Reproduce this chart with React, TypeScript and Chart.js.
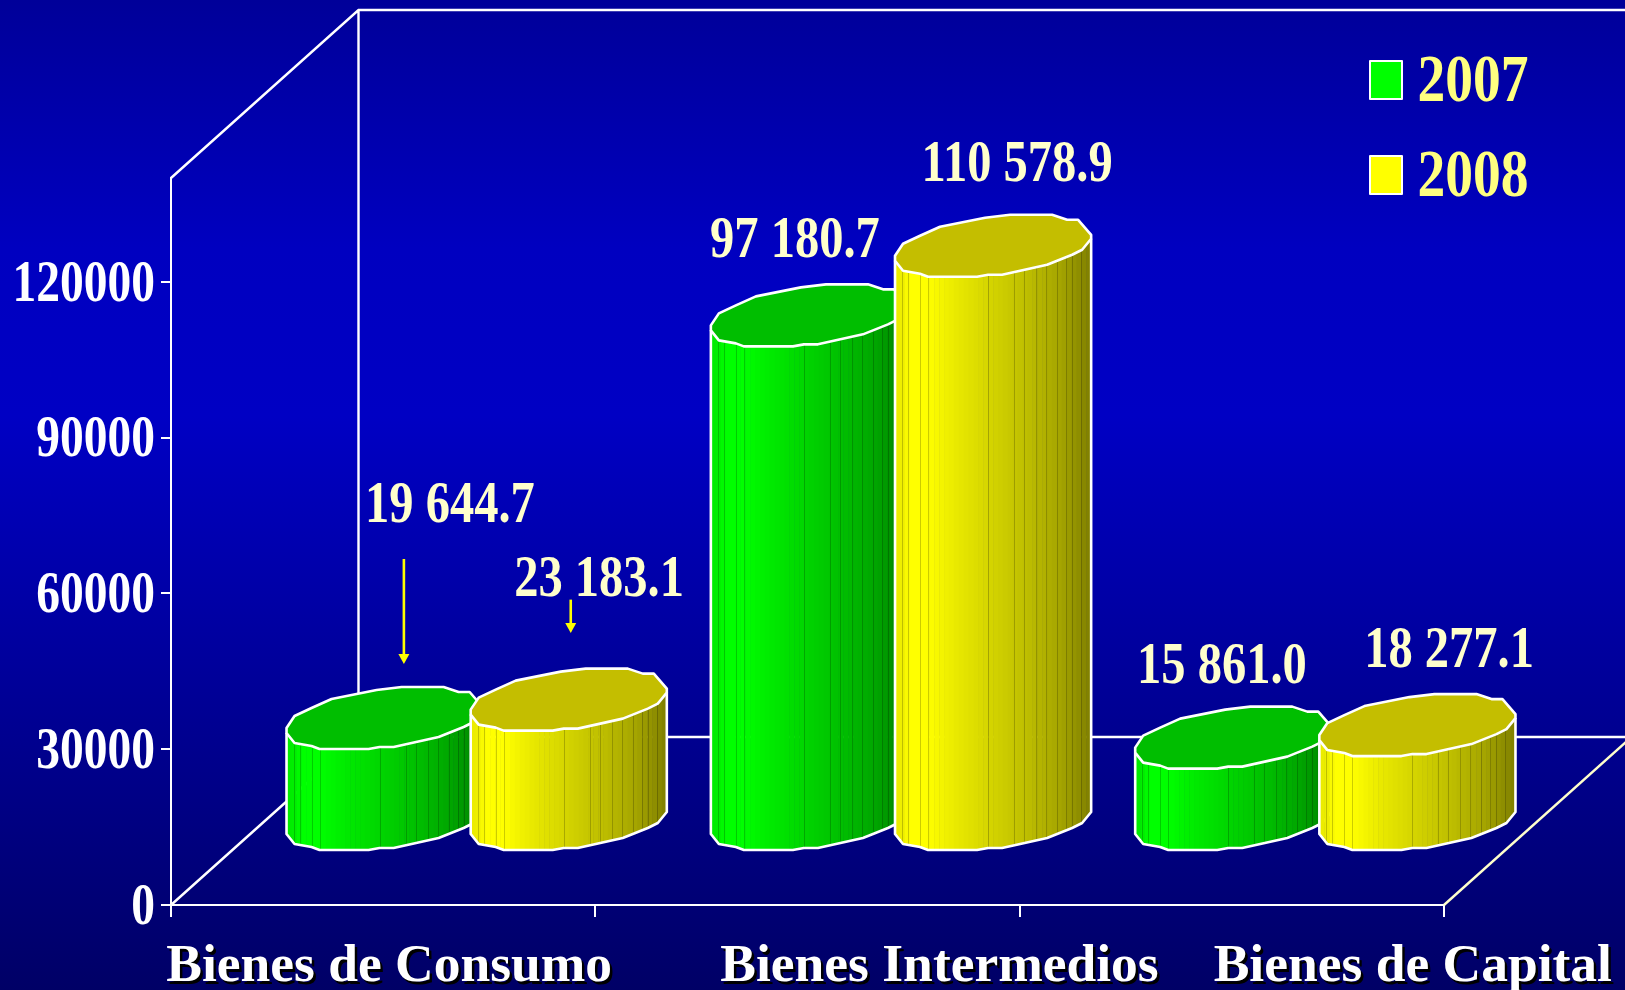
import React, { useEffect, useRef } from "react";
import { Chart, registerables } from "chart.js";

Chart.register(...registerables);

// ---------- data ----------
const categories = ["Bienes de Consumo", "Bienes Intermedios", "Bienes de Capital"];
const series2007 = [19644.7, 97180.7, 15861.0];
const series2008 = [23183.1, 110578.9, 18277.1];
const seriesNames = ["2007", "2008"];
const yTicks = [0, 30000, 60000, 90000, 120000];

// ---------- style and layout ----------
const W = 1625;
const H = 990;
const SERIF = '"Liberation Serif", "Times New Roman", serif';
const DEPTH_X = 187.5;
const DEPTH_Y = 168;
const SHIFT_X = 93.5;
const SHIFT_Y = -54;
const categoryLabelDx = [6, 132, 181];
const valueLabelOffsets = [
  [[158.8, -300], [79.5, -162.3], [82.2, -158.6]],
  [[123.8, -207.6], [117.5, -168.8], [125.2, -162]],
];
const arrows = [
  { ds: 0, i: 0, dx: 112.8, from: -244, to: -139 },
  { ds: 1, i: 0, dx: 95.5, from: -185, to: -151.6 },
];
// unit outline of a cylinder cap: [x out of 196, y above the lowest point]
const capUpper = [[0, -21], [8, -33], [25, -41], [45, -50], [90, -59], [115, -62], [157, -62], [172, -57], [183, -57], [196, -42]];
const capLower = [[0, -16], [8, -6], [25, -3], [33, 0], [82, 0], [93, -2], [107, -2], [152, -12], [162, -16], [177, -22], [187, -27], [196, -38]];
const stripeAt = [7, 13, 25, 33, 93, 119, 129, 141, 151, 162, 171, 177, 186];
const palettes = [
  { body: [0, 255, 0], cap: "#00BE00", swatch: "#00FF00" },
  { body: [255, 255, 0], cap: "#C4BE00", swatch: "#FFFF00" },
];

let textStretch = 1.25;

function shade(u: number) {
  const pts = [[0, 0.92], [0.05, 0.94], [0.07, 1], [0.17, 1], [0.3, 0.92], [0.47, 0.84], [0.7, 0.73], [0.85, 0.64], [1, 0.5]];
  for (let k = 1; k < pts.length; k++) {
    if (u <= pts[k][0]) {
      const t = (u - pts[k - 1][0]) / (pts[k][0] - pts[k - 1][0]);
      return pts[k - 1][1] + t * (pts[k][1] - pts[k - 1][1]);
    }
  }
  return 0.5;
}

function drawCylinder(ctx: any, left: number, width: number, topY: number, baseY: number, pal: any) {
  const k = width / 196;
  const upper = capUpper.map(([x, y]) => [left + x * k, topY + y]);
  const lowerTop = capLower.map(([x, y]) => [left + x * k, topY + y]);
  const lowerBase = capLower.map(([x, y]) => [left + x * k, baseY + y]);

  // body
  ctx.save();
  ctx.beginPath();
  lowerTop.forEach(([x, y], i) => (i ? ctx.lineTo(x, y) : ctx.moveTo(x, y)));
  [...lowerBase].reverse().forEach(([x, y]) => ctx.lineTo(x, y));
  ctx.closePath();
  ctx.save();
  ctx.clip();
  const yMin = topY - 70;
  const yMax = baseY + 4;
  const bands = 40;
  for (let b = 0; b < bands; b++) {
    const f = shade((b + 0.5) / bands);
    const [r, g, bl] = pal.body;
    ctx.fillStyle = `rgb(${Math.round(r * f)},${Math.round(g * f)},${Math.round(bl * f)})`;
    ctx.fillRect(left + (b / bands) * width, yMin, width / bands + 0.6, yMax - yMin);
  }
  ctx.strokeStyle = "rgba(0,0,0,0.2)";
  ctx.lineWidth = 1;
  stripeAt.forEach((s) => {
    const x = Math.round(left + s * k) + 0.5;
    ctx.beginPath();
    ctx.moveTo(x, yMin);
    ctx.lineTo(x, yMax);
    ctx.stroke();
  });
  ctx.restore();
  ctx.restore();

  // body outline
  ctx.strokeStyle = "#FFFFFF";
  ctx.lineWidth = 2.6;
  ctx.lineJoin = "round";
  ctx.beginPath();
  ctx.moveTo(lowerTop[0][0], lowerTop[0][1]);
  lowerBase.forEach(([x, y]) => ctx.lineTo(x, y));
  ctx.lineTo(lowerTop[lowerTop.length - 1][0], lowerTop[lowerTop.length - 1][1]);
  ctx.stroke();

  // cap
  ctx.beginPath();
  upper.forEach(([x, y], i) => (i ? ctx.lineTo(x, y) : ctx.moveTo(x, y)));
  [...lowerTop].reverse().forEach(([x, y]) => ctx.lineTo(x, y));
  ctx.closePath();
  ctx.fillStyle = pal.cap;
  ctx.fill();
  ctx.stroke();
}

function fmt(v: number) {
  const [a, b] = v.toFixed(1).split(".");
  return a.replace(/\B(?=(\d{3})+$)/g, " ") + "." + b;
}

const scenePlugin = {
  id: "scene",
  beforeDraw(chart: any) {
    const { ctx, width, height } = chart;
    const g = ctx.createLinearGradient(0, 0, 0, height);
    g.addColorStop(0, "#000099");
    g.addColorStop(0.25, "#0000C0");
    g.addColorStop(0.42, "#0000C4");
    g.addColorStop(1, "#000066");
    ctx.fillStyle = g;
    ctx.fillRect(0, 0, width, height);
  },
  beforeDatasetsDraw(chart: any) {
    const { ctx, chartArea: a, width } = chart;
    ctx.save();
    ctx.strokeStyle = "#FFFFFF";
    ctx.lineWidth = 2.4;
    const backX = a.left + DEPTH_X;
    const backTop = a.top - DEPTH_Y;
    const backBottom = a.bottom - DEPTH_Y;
    ctx.beginPath();
    ctx.moveTo(a.left, a.top);
    ctx.lineTo(backX, backTop);
    ctx.lineTo(width, backTop);
    ctx.moveTo(backX, backTop);
    ctx.lineTo(backX, backBottom);
    ctx.lineTo(width, backBottom);
    ctx.moveTo(a.left, a.bottom);
    ctx.lineTo(backX, backBottom);
    ctx.stroke();
    ctx.strokeStyle = "#FFFFCC";
    ctx.beginPath();
    ctx.moveTo(a.right, a.bottom);
    ctx.lineTo(a.right + DEPTH_X, backBottom);
    ctx.stroke();
    ctx.restore();
  },
  afterDatasetsDraw(chart: any) {
    const { ctx } = chart;
    ctx.save();
    const metas = [chart.getDatasetMeta(0), chart.getDatasetMeta(1)];
    categories.forEach((_, i) => {
      metas.forEach((meta, ds) => {
        const el = meta.data[i];
        const w = el.width;
        drawCylinder(ctx, el.x - w / 2 + SHIFT_X, w, el.y + SHIFT_Y, el.base + SHIFT_Y, palettes[ds]);
      });
    });

    // value labels
    textStretch = 1.23;
    ctx.font = `bold 48.5px ${SERIF}`;
    ctx.fillStyle = "#FFFFCC";
    ctx.textAlign = "center";
    ctx.textBaseline = "middle";
    metas.forEach((meta, ds) => {
      meta.data.forEach((el: any, i: number) => {
        const [dx, dy] = valueLabelOffsets[ds][i];
        ctx.fillText(fmt(chart.data.datasets[ds].data[i]), el.x + dx, el.y + dy);
      });
    });

    // arrows
    ctx.strokeStyle = "#FFFF00";
    ctx.fillStyle = "#FFFF00";
    ctx.lineWidth = 2.6;
    arrows.forEach(({ ds, i, dx, from, to }) => {
      const el = metas[ds].data[i];
      const x = el.x + dx;
      ctx.beginPath();
      ctx.moveTo(x, el.y + from);
      ctx.lineTo(x, el.y + to - 8);
      ctx.stroke();
      ctx.beginPath();
      ctx.moveTo(x - 5.5, el.y + to - 10);
      ctx.lineTo(x + 5.5, el.y + to - 10);
      ctx.lineTo(x, el.y + to);
      ctx.closePath();
      ctx.fill();
    });

    // legend
    textStretch = 1.2;
    ctx.font = `bold 55.5px ${SERIF}`;
    ctx.textAlign = "left";
    seriesNames.forEach((name, ds) => {
      const y = 60 + ds * 95;
      ctx.fillStyle = palettes[ds].swatch;
      ctx.fillRect(1370, y + 1, 32, 38);
      ctx.strokeStyle = "#FFFFFF";
      ctx.lineWidth = 2;
      ctx.strokeRect(1370, y + 1, 32, 38);
      ctx.fillStyle = "#FFFF80";
      ctx.fillText(name, 1417.5, y + 20);
    });

    // category labels
    textStretch = 1;
    ctx.font = `bold 53.5px ${SERIF}`;
    ctx.textAlign = "center";
    ctx.textBaseline = "alphabetic";
    const xs = chart.scales.x;
    categories.forEach((c, i) => {
      const x = xs.getPixelForValue(i) + categoryLabelDx[i];
      ctx.fillStyle = "#000000";
      ctx.fillText(c, x + 2.5, 983.5);
      ctx.fillStyle = "#FFFFFF";
      ctx.fillText(c, x, 981);
    });
    textStretch = 1.25;
    ctx.restore();
  },
};

export default function App() {
  const ref = useRef<HTMLCanvasElement>(null);
  useEffect(() => {
    const canvas = ref.current!;
    const ctx: any = canvas.getContext("2d");
    // all the type in the reference is tall and narrow: stretch each string about its anchor
    const plainFillText = ctx.fillText.bind(ctx);
    ctx.fillText = (t: string, x: number, y: number, mw?: number) => {
      ctx.save();
      // centre-anchored strings sit a little high once stretched
      ctx.translate(x, ctx.textBaseline === "middle" ? y + 3.5 : y);
      ctx.scale(1, textStretch);
      if (mw === undefined) plainFillText(t, 0, 0);
      else plainFillText(t, 0, 0, mw);
      ctx.restore();
    };
    const chart = new Chart(canvas, {
      type: "bar",
      data: {
        labels: categories,
        datasets: [
          { label: seriesNames[0], data: series2007, backgroundColor: "rgba(0,0,0,0)" },
          { label: seriesNames[1], data: series2008, backgroundColor: "rgba(0,0,0,0)" },
        ],
      },
      options: {
        animation: false,
        responsive: false,
        devicePixelRatio: 1,
        categoryPercentage: 0.868,
        barPercentage: 1.065,
        layout: { padding: { top: 178, right: 181, left: 0, bottom: 0 } },
        plugins: { legend: { display: false }, tooltip: { enabled: false } },
        scales: {
          x: {
            grid: { offset: true, drawOnChartArea: false, color: "#FFFFFF", lineWidth: 2, tickLength: 12 },
            border: { color: "#FFFFFF", width: 2 },
            ticks: { display: false, autoSkip: false },
            afterFit: (s: any) => { s.height = 85; },
          },
          y: {
            min: 0,
            max: 140000,
            grid: { drawOnChartArea: false, color: "#FFFFFF", lineWidth: 2, tickLength: 10 },
            border: { color: "#FFFFFF", width: 2 },
            ticks: {
              color: "#FFFFFF",
              font: { family: SERIF, size: 47.5, weight: "bold" },
              padding: 6,
              includeBounds: false,
              autoSkip: false,
              maxRotation: 0,
              callback: (v: any) => String(v),
            },
            afterBuildTicks: (s: any) => { s.ticks = yTicks.map((value) => ({ value })); },
            afterFit: (s: any) => { s.width = 171; },
          },
        },
      } as any,
      plugins: [scenePlugin],
    });
    return () => chart.destroy();
  }, []);
  return (
    <canvas
      ref={ref}
      width={W}
      height={H}
      style={{ position: "fixed", left: 0, top: 0, width: W, height: H, display: "block" }}
    />
  );
}
